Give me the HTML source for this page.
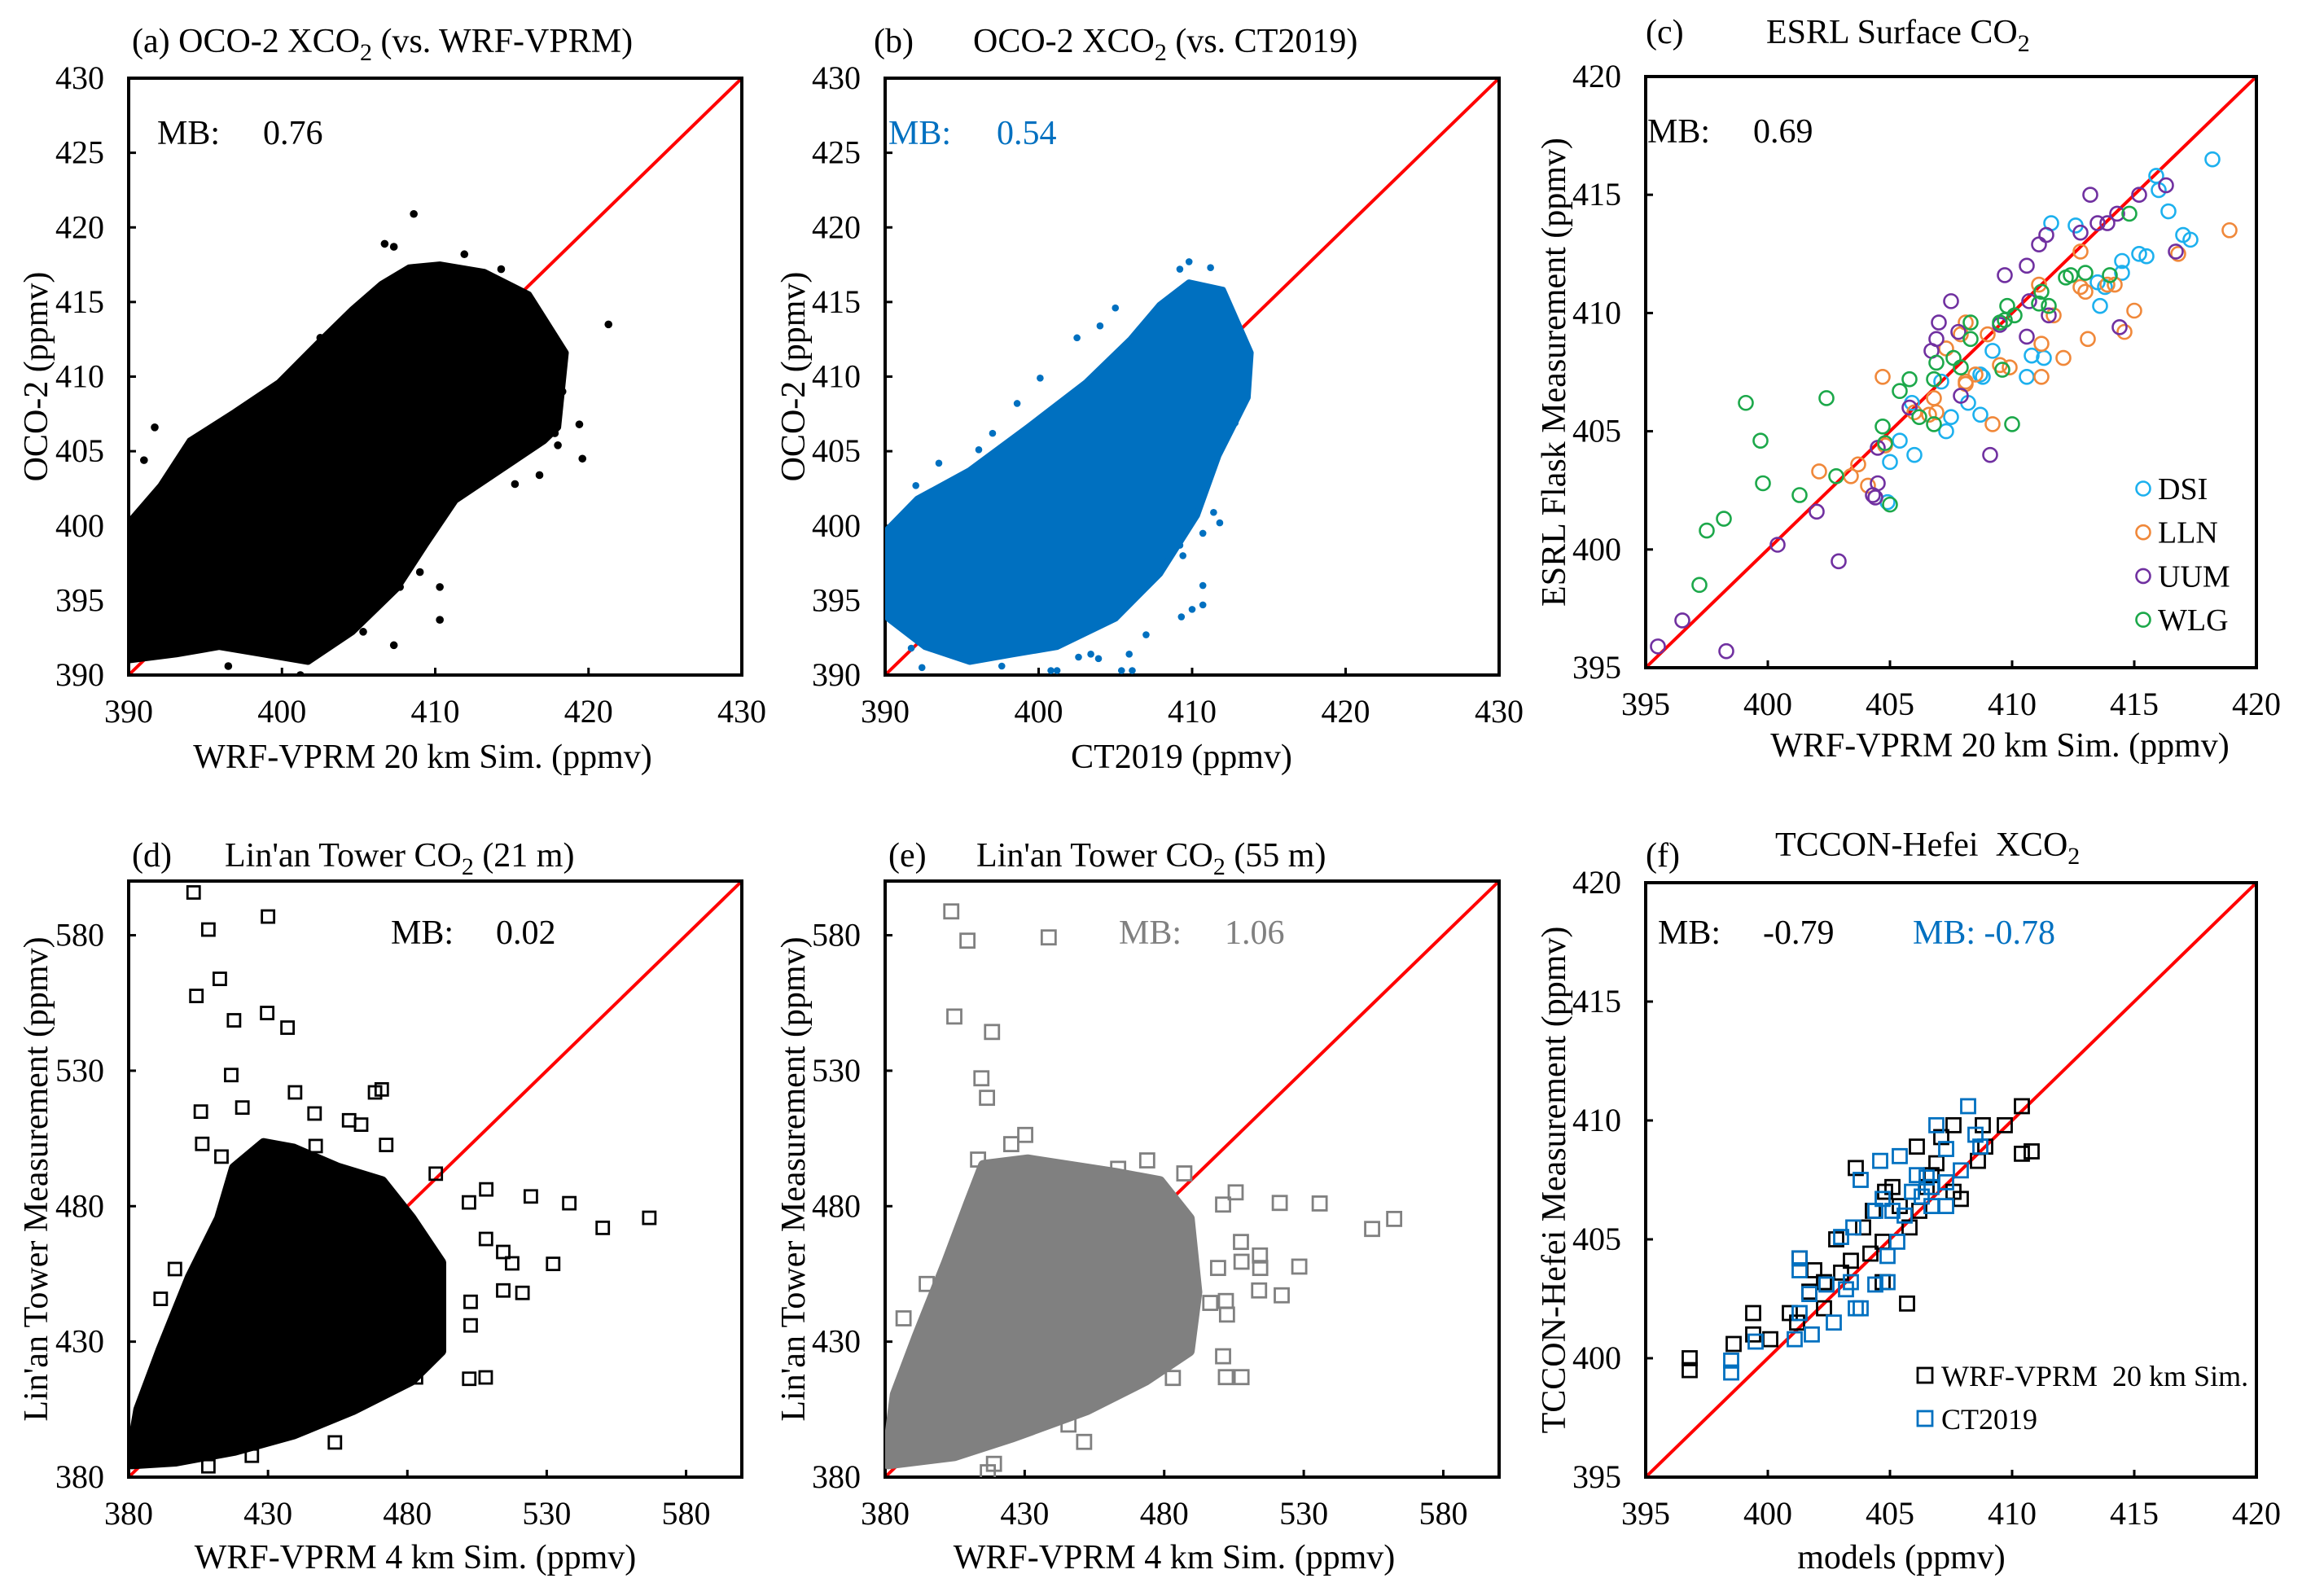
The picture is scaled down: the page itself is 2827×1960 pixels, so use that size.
<!DOCTYPE html>
<html><head><meta charset="utf-8"><style>
html,body{margin:0;padding:0;background:#fff}
svg{display:block}
svg text{font-family:"Liberation Serif","Times New Roman",Times,"Nimbus Roman","FreeSerif","DejaVu Serif",serif !important}
</style></head><body>
<svg id="fig" width="2827" height="1960" viewBox="0 0 2827 1960" xmlns="http://www.w3.org/2000/svg"></svg>
<script>
// ---------- DATA ----------
const aCloudX=[390.0,392.1,394.0,396.9,399.8,402.7,404.6,406.5,408.3,410.3,413.2,416.1,418.5,418.0,417.1,414.2,411.3,409.4,407.5,404.6,401.7,398.8,395.9,393.1,390.0];
const aCloudY=[400.2,402.7,405.7,407.6,409.6,412.6,414.5,416.2,417.3,417.5,417.0,415.5,411.6,406.6,405.7,403.7,401.7,398.8,395.8,392.9,390.9,391.4,391.9,391.4,391.0];
const aOutX=[408.6,406.7,407.3,411.9,414.3,421.3,418.1,418.3,419.4,419.6,418.0,416.8,415.2,410.3,410.3,407.3,401.2,396.5,391.7,391.0,402.5,403.9,416.8,417.2,416.0,417.8,409.0,407.7,405.3,401.9];
const aOutY=[420.9,418.9,418.7,418.2,417.2,413.5,411.7,409.0,406.8,404.5,405.4,403.4,402.8,395.9,393.7,392.0,390.0,390.6,406.6,404.4,412.6,413.3,413.2,411.7,414.2,406.2,396.9,395.9,392.9,391.3];
const bCloudX=[390.2,392.1,395.5,399.3,403.1,406.0,407.9,409.8,412.0,413.8,413.6,411.7,410.3,407.9,405.0,401.2,398.3,395.5,392.6,390.2];
const bCloudY=[399.8,401.8,403.7,406.6,409.6,412.5,414.8,416.3,415.8,411.6,408.6,404.7,400.7,396.8,393.8,391.9,391.4,390.9,391.9,393.8];
const bOutX=[409.8,409.2,411.2,405.0,402.5,404.0,400.1,398.6,397.0,396.1,393.5,392.0,390.5,412.8,413.0,411.4,411.8,410.7,410.7,410.7,410.0,409.3,407.0,405.9,406.1,405.4,401.2,400.8,397.6,392.4,391.7,399.4,396.5,403.4,402.6,403.9,401.7,400.5,409.2,409.4];
const bOutY=[417.7,417.2,417.3,414.6,412.6,413.4,409.9,408.2,406.2,405.1,404.2,402.7,397.3,406.9,407.6,400.9,400.2,399.5,396.0,394.7,394.4,393.9,392.7,391.4,390.3,390.3,390.3,390.3,390.6,390.5,391.8,391.8,392.2,391.4,391.2,391.1,392.7,393.6,398.7,398.0];
const dsiX=[418.2,415.9,416.0,416.4,411.6,412.6,417.0,417.3,415.2,415.5,414.5,414.5,413.5,413.8,413.6,409.2,410.8,411.3,408.7,408.8,410.6,407.1,405.9,408.2,408.7,407.5,407.3,405.4,406.0,405.0,404.9];
const dsiY=[416.5,415.8,415.2,414.3,413.8,413.7,413.3,413.1,412.5,412.4,412.2,411.7,411.3,411.1,410.3,408.4,408.2,408.1,407.4,407.3,407.3,407.1,406.2,406.2,405.7,405.6,405.0,404.6,404.0,403.7,402.0];
const llnX=[418.9,416.8,412.8,411.1,412.8,413.0,413.9,414.2,415.0,411.7,414.6,408.1,407.9,409.0,413.1,411.2,407.3,412.1,409.5,409.9,411.2,404.7,408.5,408.1,408.1,406.8,406.9,406.0,409.2,404.8,403.7,402.1,403.4,404.1,406.6];
const llnY=[413.5,412.5,412.6,411.2,411.1,410.9,411.2,411.2,410.1,409.9,409.2,409.6,409.1,409.1,408.9,408.7,408.5,408.1,407.8,407.7,407.3,407.3,407.4,407.1,407.0,406.4,405.8,405.8,405.3,404.4,403.6,403.3,403.1,402.7,405.7];
const uumX=[413.2,415.2,416.3,413.5,413.9,414.3,412.8,411.4,411.1,416.7,410.6,409.7,410.7,411.5,407.5,407.0,406.9,407.8,406.7,410.6,414.4,409.5,407.9,405.8,404.5,409.1,404.5,404.3,404.4,402.0,400.4,402.9,396.5,395.5,398.3];
const uumY=[415.0,415.0,415.4,413.8,413.8,414.2,413.4,413.3,412.9,412.6,412.0,411.6,410.5,409.9,410.5,409.6,408.9,409.2,408.4,409.0,409.4,409.5,406.5,406.0,404.3,404.0,402.8,402.3,402.2,401.6,400.2,399.5,397.0,395.9,395.7];
const wlgX=[414.8,412.2,412.4,413.0,414.0,411.2,411.1,411.5,409.8,410.1,409.7,409.5,408.3,408.3,407.6,406.9,407.9,409.6,406.8,405.8,405.4,406.2,406.8,410.0,404.7,404.8,402.8,401.3,405.0,402.4,399.1,399.7,399.8,398.2,397.5,397.2];
const wlgY=[414.2,411.5,411.6,411.7,411.6,410.9,410.4,410.3,410.3,409.9,409.7,409.6,409.6,408.9,408.1,407.9,407.7,407.6,407.2,407.2,406.7,405.6,405.3,405.3,405.2,404.5,403.1,402.3,401.9,406.4,406.2,404.6,402.8,401.3,400.8,398.5];
const dCloudX=[381.0,383.7,391.6,402.2,412.7,418.0,428.5,439.1,454.9,470.8,481.3,491.9,491.9,481.3,460.2,439.1,418.0,396.9,381.0];
const dCloudY=[388.7,404.9,426.6,453.7,475.4,494.0,503.0,501.0,494.0,489.0,475.4,459.1,426.6,415.8,404.9,396.0,390.0,386.0,385.0];
const dOutX=[403.3,430.0,408.6,412.7,404.3,417.8,429.7,437.0,416.8,439.7,468.4,470.8,405.9,446.7,420.8,459.1,463.4,406.4,413.3,447.1,472.4,490.2,508.3,502.1,524.3,538.1,550.1,566.8,532.3,514.4,517.6,514.4,521.3,508.2,502.7,502.7,508.1,502.2,483.1,391.5,396.6,454.0,408.6,424.2];
const dOutY=[595.8,586.9,582.1,563.9,557.6,548.6,551.3,545.9,528.4,522.0,522.0,523.1,514.9,514.2,516.4,511.7,510.1,503.0,498.3,502.2,502.6,492.0,486.2,481.4,483.6,481.1,472.0,475.7,458.7,463.1,458.9,448.9,448.0,467.9,444.7,436.0,416.8,416.3,416.8,445.8,456.8,392.8,384.0,387.9];
const eCloudX=[381.0,383.7,391.6,402.1,410.0,415.3,431.1,462.6,478.4,488.9,491.6,488.9,473.2,452.1,425.8,404.7,381.0];
const eCloudY=[388.7,410.4,432.0,459.1,480.8,495.0,497.0,492.0,489.0,475.4,448.3,426.6,415.8,404.9,395.0,388.0,385.0];
const eOutX=[403.7,409.5,438.6,404.8,418.3,414.5,416.5,430.2,425.2,413.3,473.9,463.5,487.2,505.6,501.1,521.4,535.7,554.5,562.4,507.5,514.3,507.7,514.4,528.4,499.3,514.0,522.1,502.1,496.5,502.5,501.1,502.1,507.7,483.1,394.9,386.6,451.3,445.7,419.0,416.8,404.7];
const eOutY=[588.8,578.0,579.2,550.0,544.3,527.2,520.0,506.3,502.9,497.2,496.9,493.8,492.1,485.1,480.6,481.2,481.0,471.6,475.3,466.8,461.8,459.5,457.2,457.7,457.2,448.9,447.1,445.0,444.3,440.0,424.6,416.9,416.9,416.6,451.3,438.6,393.0,399.4,384.9,381.8,390.2];
const wrfX=[396.8,396.8,398.6,399.4,399.4,400.1,400.9,401.2,401.3,401.9,401.7,402.3,402.3,402.8,403.0,403.4,403.6,403.9,404.2,404.7,405.7,404.7,404.8,405.1,405.4,405.8,406.1,406.2,406.7,407.1,407.6,407.9,407.6,408.6,408.8,408.9,409.7,410.4,410.4,410.8,404.3,406.5,406.9];
const wrfY=[400.0,399.5,400.6,401.9,401.0,400.8,401.9,401.5,404.2,403.7,402.8,403.2,402.1,405.0,403.6,404.1,408.0,405.5,404.4,403.2,402.3,404.9,407.0,407.2,406.4,405.5,408.9,406.2,407.7,409.3,409.8,406.7,407.0,408.3,409.8,408.9,409.8,410.6,408.6,408.7,406.2,407.2,408.2];
const ctX=[398.5,398.5,399.5,401.1,401.8,402.7,401.3,401.3,401.3,401.7,402.4,403.0,403.5,403.6,403.8,403.4,403.2,403.8,404.4,404.4,404.9,404.9,404.6,404.7,405.3,405.4,405.1,405.6,405.9,406.3,406.7,406.9,407.3,407.3,407.3,407.9,408.2,408.5,408.7,406.1,406.7,406.5];
const ctY=[399.9,399.4,400.7,400.8,401.0,401.5,401.9,404.2,403.7,402.7,403.1,405.1,405.5,402.1,402.1,403.2,402.9,407.5,406.2,403.1,403.2,404.3,408.3,406.7,404.9,408.5,406.2,406.0,407.0,406.8,406.4,409.8,408.8,406.4,407.4,407.9,410.6,409.4,408.9,407.7,407.2,407.6];
const ticksOCO=[390,395,400,405,410,415,420,425,430];
const ticksOCOx=[390,400,410,420,430];
const ticks395=[395,400,405,410,415,420];
const ticksTower=[380,430,480,530,580];
const stationNames=['DSI','LLN','UUM','WLG'];

// ---------- LAYOUT ----------
const NS='http://www.w3.org/2000/svg';
const svg=document.getElementById('fig');
function mk(tag,attrs,parent){const e=document.createElementNS(NS,tag);for(const k in attrs)e.setAttribute(k,attrs[k]);(parent||svg).appendChild(e);return e;}
const panels={
 a:{x0:158,x1:911,y0:96,y1:829,lo:390,hi:430},
 b:{x0:1087,x1:1841,y0:96,y1:829,lo:390,hi:430},
 c:{x0:2021,x1:2771,y0:94,y1:820,lo:395,hi:420},
 d:{x0:158,x1:911,y0:1082,y1:1814,lo:380,hi:600},
 e:{x0:1087,x1:1841,y0:1082,y1:1814,lo:380,hi:600},
 f:{x0:2021,x1:2771,y0:1084,y1:1814,lo:395,hi:420}
};
function sx(p,v){return p.x0+(v-p.lo)/(p.hi-p.lo)*(p.x1-p.x0);}
function sy(p,v){return p.y1-(v-p.lo)/(p.hi-p.lo)*(p.y1-p.y0);}

function frame(key,yt,xt){
 const p=panels[key];
 const g=mk('g',{});
 
 
 const cp=mk('clipPath',{id:'clip-'+key},g);
 mk('rect',{x:p.x0,y:p.y0,width:p.x1-p.x0,height:p.y1-p.y0},cp);
 const diag=mk('line',{x1:p.x0,y1:p.y1,x2:p.x1,y2:p.y0,stroke:'#ff0000','stroke-width':4},g);
 
 
 yt.forEach(v=>{
  const y=sy(p,v);
  mk('line',{x1:p.x0,y1:y,x2:p.x0+9,y2:y,stroke:'#000','stroke-width':3},g);
  const t=mk('text',{x:p.x0-30,y:y+13,'font-size':40,'text-anchor':'end'},g);
  t.textContent=v;
  
  
 });
 xt.forEach(v=>{
  const x=sx(p,v);
  mk('line',{x1:x,y1:p.y1,x2:x,y2:p.y1-9,stroke:'#000','stroke-width':3},g);
  const t=mk('text',{x:x,y:p.y1+58,'font-size':40,'text-anchor':'middle'},g);
  t.textContent=v;
  
  
 });
 const r=mk('rect',{x:p.x0,y:p.y0,width:p.x1-p.x0,height:p.y1-p.y0,fill:'none',stroke:'#000','stroke-width':4});
 
 
 return g;
}
function cloud(key,xs,ys,color,sw){
 const p=panels[key];
 const pts=xs.map((v,i)=>sx(p,v).toFixed(1)+','+sy(p,ys[i]).toFixed(1)).join(' ');
 const poly=mk('polygon',{points:pts,fill:color,stroke:color,'stroke-width':sw,'stroke-linejoin':'round','clip-path':'url(#clip-'+key+')'});
 
 
}
function dots(key,xs,ys,color,r,name){
 const p=panels[key];
 const g=mk('g',{'clip-path':'url(#clip-'+key+')'});
 
 
 xs.forEach((v,i)=>{
  const c=mk('circle',{cx:sx(p,v),cy:sy(p,ys[i]),r:r,fill:color},g);
  
  
 });
}
function rings(key,xs,ys,color,name){
 const p=panels[key];
 const g=mk('g',{});
 
 
 xs.forEach((v,i)=>{
  const c=mk('circle',{cx:sx(p,v),cy:sy(p,ys[i]),r:8.5,fill:'none',stroke:color,'stroke-width':2.6},g);
  
  
 });
}
function squares(key,xs,ys,color,s,name){
 const p=panels[key];
 const g=mk('g',{'clip-path':'url(#clip-'+key+')'});
 
 
 xs.forEach((v,i)=>{
  const q=mk('rect',{x:sx(p,v)-s/2,y:sy(p,ys[i])-s/2,width:s,height:s,fill:'none',stroke:color,'stroke-width':2.8},g);
  
  
 });
}
function txt(x,y,s,size,name,opts){
 const t=mk('text',Object.assign({x:x,y:y,'font-size':size},opts||{}));
 t.innerHTML=s;
 
 
 return t;
}
const SUB='<tspan dy="10" font-size="30">2</tspan><tspan dy="-10"> </tspan>';
function ytitle(x,p,s,name){
 const cy=(p.y0+p.y1)/2;
 return txt(x,cy,s,42,name,{'text-anchor':'middle',transform:'rotate(-90 '+x+' '+cy+')'});
}

// ---------- DRAW ----------
const BLUE='#0070c0', GRAY='#808080';
frame('a',ticksOCO,ticksOCOx);
cloud('a',aCloudX,aCloudY,'#000',8);
dots('a',aOutX,aOutY,'#000',4.8,'panel-a-outlier-points');
txt(162,64,'(a) OCO-2 XCO'+SUB+'(vs. WRF-VPRM)',42,'panel-a-title');
txt(193,177,'MB:',42,'panel-a-mb-label');
txt(323,177,'0.76',42,'panel-a-mb-value');
txt(519,943,'WRF-VPRM 20 km Sim. (ppmv)',42,'panel-a-x-axis-title',{'text-anchor':'middle'});
ytitle(58,panels.a,'OCO-2 (ppmv)','panel-a-y-axis-title');

frame('b',ticksOCO,ticksOCOx);
cloud('b',bCloudX,bCloudY,BLUE,8);
dots('b',bOutX,bOutY,BLUE,4.3,'panel-b-outlier-points');
txt(1073,64,'(b)',42,'panel-b-label');
txt(1195,64,'OCO-2 XCO'+SUB+'(vs. CT2019)',42,'panel-b-title');
txt(1091,177,'MB:',42,'panel-b-mb-label',{fill:BLUE});
txt(1224,177,'0.54',42,'panel-b-mb-value',{fill:BLUE});
txt(1451,943,'CT2019 (ppmv)',42,'panel-b-x-axis-title',{'text-anchor':'middle'});
ytitle(988,panels.b,'OCO-2 (ppmv)','panel-b-y-axis-title');

frame('c',ticks395,ticks395);
const stColors=['#1cb0ee','#f0883a','#7030a0','#1ca84a'];
rings('c',dsiX,dsiY,stColors[0],'series-dsi');
rings('c',llnX,llnY,stColors[1],'series-lln');
rings('c',uumX,uumY,stColors[2],'series-uum');
rings('c',wlgX,wlgY,stColors[3],'series-wlg');
txt(2021,53,'(c)',42,'panel-c-label');
txt(2169,53,'ESRL Surface CO'+SUB,42,'panel-c-title');
txt(2023,175,'MB:',42,'panel-c-mb-label');
txt(2153,175,'0.69',42,'panel-c-mb-value');
txt(2456,929,'WRF-VPRM 20 km Sim. (ppmv)',42,'panel-c-x-axis-title',{'text-anchor':'middle'});
ytitle(1922,panels.c,'ESRL Flask Measurement (ppmv)','panel-c-y-axis-title');
stationNames.forEach((n,i)=>{
 const y=600+i*53.7;
 const m=mk('circle',{cx:2632,cy:y,r:8.5,fill:'none',stroke:stColors[i],'stroke-width':2.6});
 
 
 txt(2650,y+13,n,38,'legend-entry-'+n.toLowerCase());
});

frame('d',ticksTower,ticksTower);
cloud('d',dCloudX,dCloudY,'#000',14);
squares('d',dOutX,dOutY,'#000',15,'panel-d-outlier-points');
txt(162,1064,'(d)',42,'panel-d-label');
txt(276,1064,"Lin'an Tower CO"+SUB+'(21 m)',42,'panel-d-title');
txt(480,1159,'MB:',42,'panel-d-mb-label');
txt(609,1159,'0.02',42,'panel-d-mb-value');
txt(510,1926,'WRF-VPRM 4 km Sim. (ppmv)',42,'panel-d-x-axis-title',{'text-anchor':'middle'});
ytitle(58,panels.d,"Lin'an Tower Measurement (ppmv)",'panel-d-y-axis-title');

frame('e',ticksTower,ticksTower);
cloud('e',eCloudX,eCloudY,GRAY,14);
squares('e',eOutX,eOutY,GRAY,17,'panel-e-outlier-points');
txt(1091,1064,'(e)',42,'panel-e-label');
txt(1199,1064,"Lin'an Tower CO"+SUB+'(55 m)',42,'panel-e-title');
txt(1374,1159,'MB:',42,'panel-e-mb-label',{fill:GRAY});
txt(1504,1159,'1.06',42,'panel-e-mb-value',{fill:GRAY});
txt(1442,1926,'WRF-VPRM 4 km Sim. (ppmv)',42,'panel-e-x-axis-title',{'text-anchor':'middle'});
ytitle(988,panels.e,"Lin'an Tower Measurement (ppmv)",'panel-e-y-axis-title');

frame('f',ticks395,ticks395);
squares('f',wrfX,wrfY,'#000',17,'series-wrf-vprm');
squares('f',ctX,ctY,BLUE,17,'series-ct2019');
txt(2021,1064,'(f)',42,'panel-f-label');
txt(2180,1051,'TCCON-Hefei&#160;&#160;XCO'+SUB,42,'panel-f-title');
txt(2036,1159,'MB:',42,'panel-f-mb-label');
txt(2165,1159,'-0.79',42,'panel-f-mb-value');
txt(2349,1159,'MB: -0.78',42,'panel-f-mb-ct-value',{fill:BLUE});
txt(2335,1926,'models (ppmv)',42,'panel-f-x-axis-title',{'text-anchor':'middle'});
ytitle(1922,panels.f,'TCCON-Hefei Measurement (ppmv)','panel-f-y-axis-title');
const lf1=mk('rect',{x:2355,y:1680,width:18,height:18,fill:'none',stroke:'#000','stroke-width':2.8});


txt(2384,1702,'WRF-VPRM&#160;&#160;20 km Sim.',36,'legend-entry-wrf-vprm');
const lf2=mk('rect',{x:2355,y:1733,width:18,height:18,fill:'none',stroke:BLUE,'stroke-width':2.8});


txt(2384,1755,'CT2019',36,'legend-entry-ct2019');
</script>
</body></html>
